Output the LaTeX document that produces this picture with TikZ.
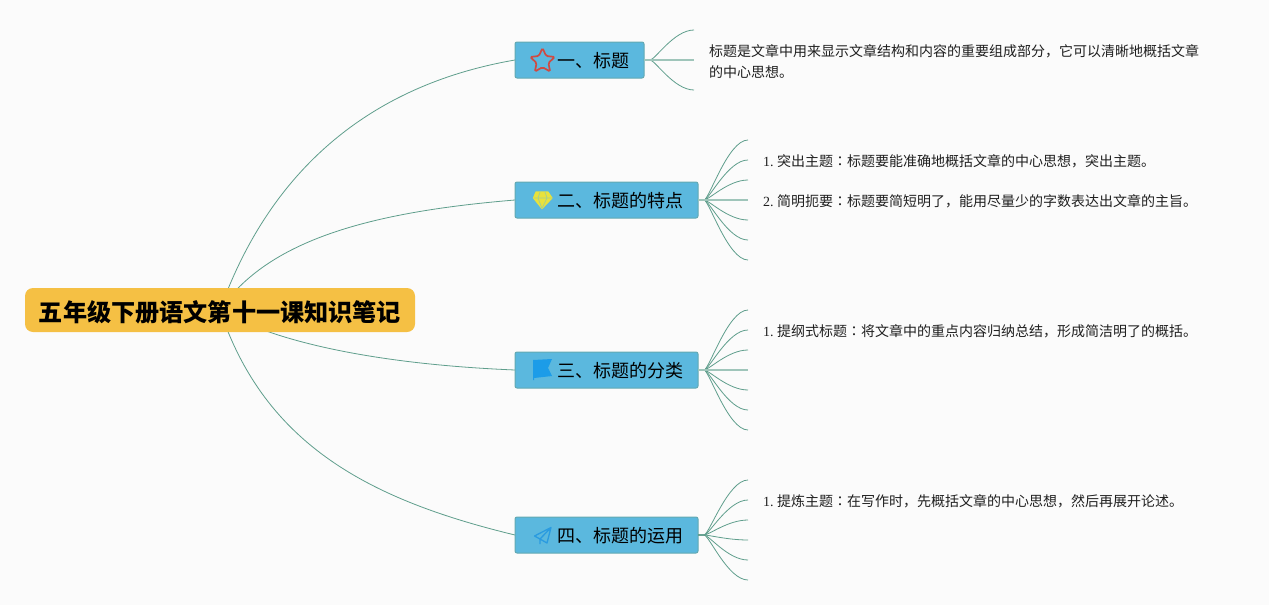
\documentclass[tikz,border=0pt]{standalone}
\usepackage{fontspec}
\usetikzlibrary{shapes.geometric,backgrounds}
\setmainfont{Liberation Serif}
\newfontfamily\cjk{Noto Sans CJK SC}
\newfontfamily\cjkjp{Noto Sans CJK JP}
\definecolor{pagebg}{HTML}{FBFBFB}
\definecolor{rootfill}{HTML}{F5C044}
\definecolor{topicfill}{HTML}{5BB8DE}
\definecolor{topicline}{HTML}{62A9B2}
\definecolor{twigline}{HTML}{5F9E8C}
\definecolor{starline}{HTML}{CF4A42}
\definecolor{gemfill}{HTML}{E8E23C}
\definecolor{gemline}{HTML}{A8D08C}
\definecolor{flagfill}{HTML}{1C9CE8}
\definecolor{planeline}{HTML}{2A9BE0}
\newcommand{\colonjp}{{\cjkjp ：}}
\tikzset{
  rootbox/.style={fill=rootfill,rounded corners=8pt,minimum width=390pt,minimum height=44pt,inner sep=0pt,outer sep=0pt,
    text height=22pt,text depth=0pt,font=\cjk\bfseries\fontsize{24.15}{30}\selectfont},
  topic/.style={fill=topicfill,draw=topicline,line width=1pt,rounded corners=2pt,text width=#1,minimum height=36pt,
    inner xsep=0pt,inner ysep=0pt,outer sep=0pt,align=left,execute at begin node=\hspace*{42pt},
    text height=14.6pt,text depth=0pt,font=\cjk\fontsize{18}{22}\selectfont,text=black},
  note/.style={anchor=west,inner sep=0pt,align=left,text=black!88,font=\fontsize{14}{21}\selectfont},
  branch/.style={draw=twigline,line width=0.8pt},
  twig/.style={draw=twigline,line width=0.8pt,out=0,in=180,out distance=5pt,in distance=20pt},
  midtwig/.style={draw=twigline!60,line width=1.4pt},
}
\begin{document}
\begin{tikzpicture}[x=1pt,y=-1pt]
\useasboundingbox (0,0) rectangle (1269,605);
\node[rootbox] (root) at (220,310) {五年级下册语文第十一课知识笔记};
\node[topic=129pt] (n1) at (579.5,60) {一、标题};
\node[topic=183pt] (n2) at (606.5,200) {二、标题的特点};
\node[topic=183pt] (n3) at (606.5,370) {三、标题的分类};
\node[topic=183pt] (n4) at (606.5,535) {四、标题的运用};
\begin{pgfonlayer}{background}
\fill[pagebg] (0,0) rectangle (1269,605);
\draw[branch] (root.center) .. controls (270,170) and (370,85) .. (n1.west);
\draw[branch] (root.center) .. controls (268,240) and (370,212) .. (n2.west);
\draw[branch] (root.center) .. controls (270,340) and (370,364) .. (n3.west);
\draw[branch] (root.center) .. controls (265,445) and (370,500) .. (n4.west);
\end{pgfonlayer}

\foreach \i/\y in {1/30,3/90}{
  \coordinate (a\i) at (694,\y);
  \draw[twig] (n1.east) -- ++(6,0) to (a\i);
}
\coordinate (a2) at (694,60);
\draw[midtwig] (n1.east) -- (a2);
\foreach \i/\y in {1/140,2/160,3/180,5/220,6/240,7/260}{
  \coordinate (b\i) at (748,\y);
  \draw[twig] (n2.east) -- ++(6,0) to (b\i);
}
\coordinate (b4) at (748,200);
\draw[midtwig] (n2.east) -- (b4);
\foreach \i/\y in {1/310,2/330,3/350,5/390,6/410,7/430}{
  \coordinate (c\i) at (748,\y);
  \draw[twig] (n3.east) -- ++(6,0) to (c\i);
}
\coordinate (c4) at (748,370);
\draw[midtwig] (n3.east) -- (c4);
\foreach \i/\y in {1/480,2/500,3/520,4/540,5/560,6/580}{
  \coordinate (d\i) at (748,\y);
  \draw[twig] (n4.east) -- ++(6,0) to (d\i);
}

\node[note] (t1) at (709,61.5) {\cjk 标题是文章中用来显示文章结构和内容的重要组成部分，它可以清晰地概括文章\\\cjk 的中心思想。};
\node[note] (t2) at (763,161) {1.\hspace{3.3pt}{\cjk 突出主题\colonjp 标题要能准确地概括文章的中心思想，突出主题。}};
\node[note] (t3) at (763,201) {2.\hspace{3.3pt}{\cjk 简明扼要\colonjp 标题要简短明了，能用尽量少的字数表达出文章的主旨。}};
\node[note] (t4) at (763,331) {1.\hspace{3.3pt}{\cjk 提纲式标题\colonjp 将文章中的重点内容归纳总结，形成简洁明了的概括。}};
\node[note] (t5) at (763,501) {1.\hspace{3.3pt}{\cjk 提炼主题\colonjp 在写作时，先概括文章的中心思想，然后再展开论述。}};

% icons
\node[star,star points=5,star point ratio=2.1,draw=starline,line width=1.7pt,rounded corners=1.5pt,minimum size=26pt,inner sep=0pt] (star1) at (542.5,61) {};
\draw[draw=gemfill,fill=gemfill,line width=1.2pt,line join=round] (536,192) -- (548,192) -- (552,198) -- (542,208.5) -- (533.5,198) -- cycle;
\draw[draw=gemline,line width=0.8pt] (533.5,198) -- (552,198) (538,198) -- (542,208.5) -- (547,198) (540,192) -- (538,198) (545,192) -- (547,198);
\fill[flagfill] (533,360) -- (552,359) -- (548,368) -- (552,376) -- (534,378) -- (534,380) -- (533,380) -- cycle;
\draw[draw=planeline,line width=1.3pt,line join=round] (551,527.5) -- (534.5,536) -- (540,539) -- (551,527.5) -- (547,543) -- (540,539) -- (540,544);
\end{tikzpicture}
\end{document}
